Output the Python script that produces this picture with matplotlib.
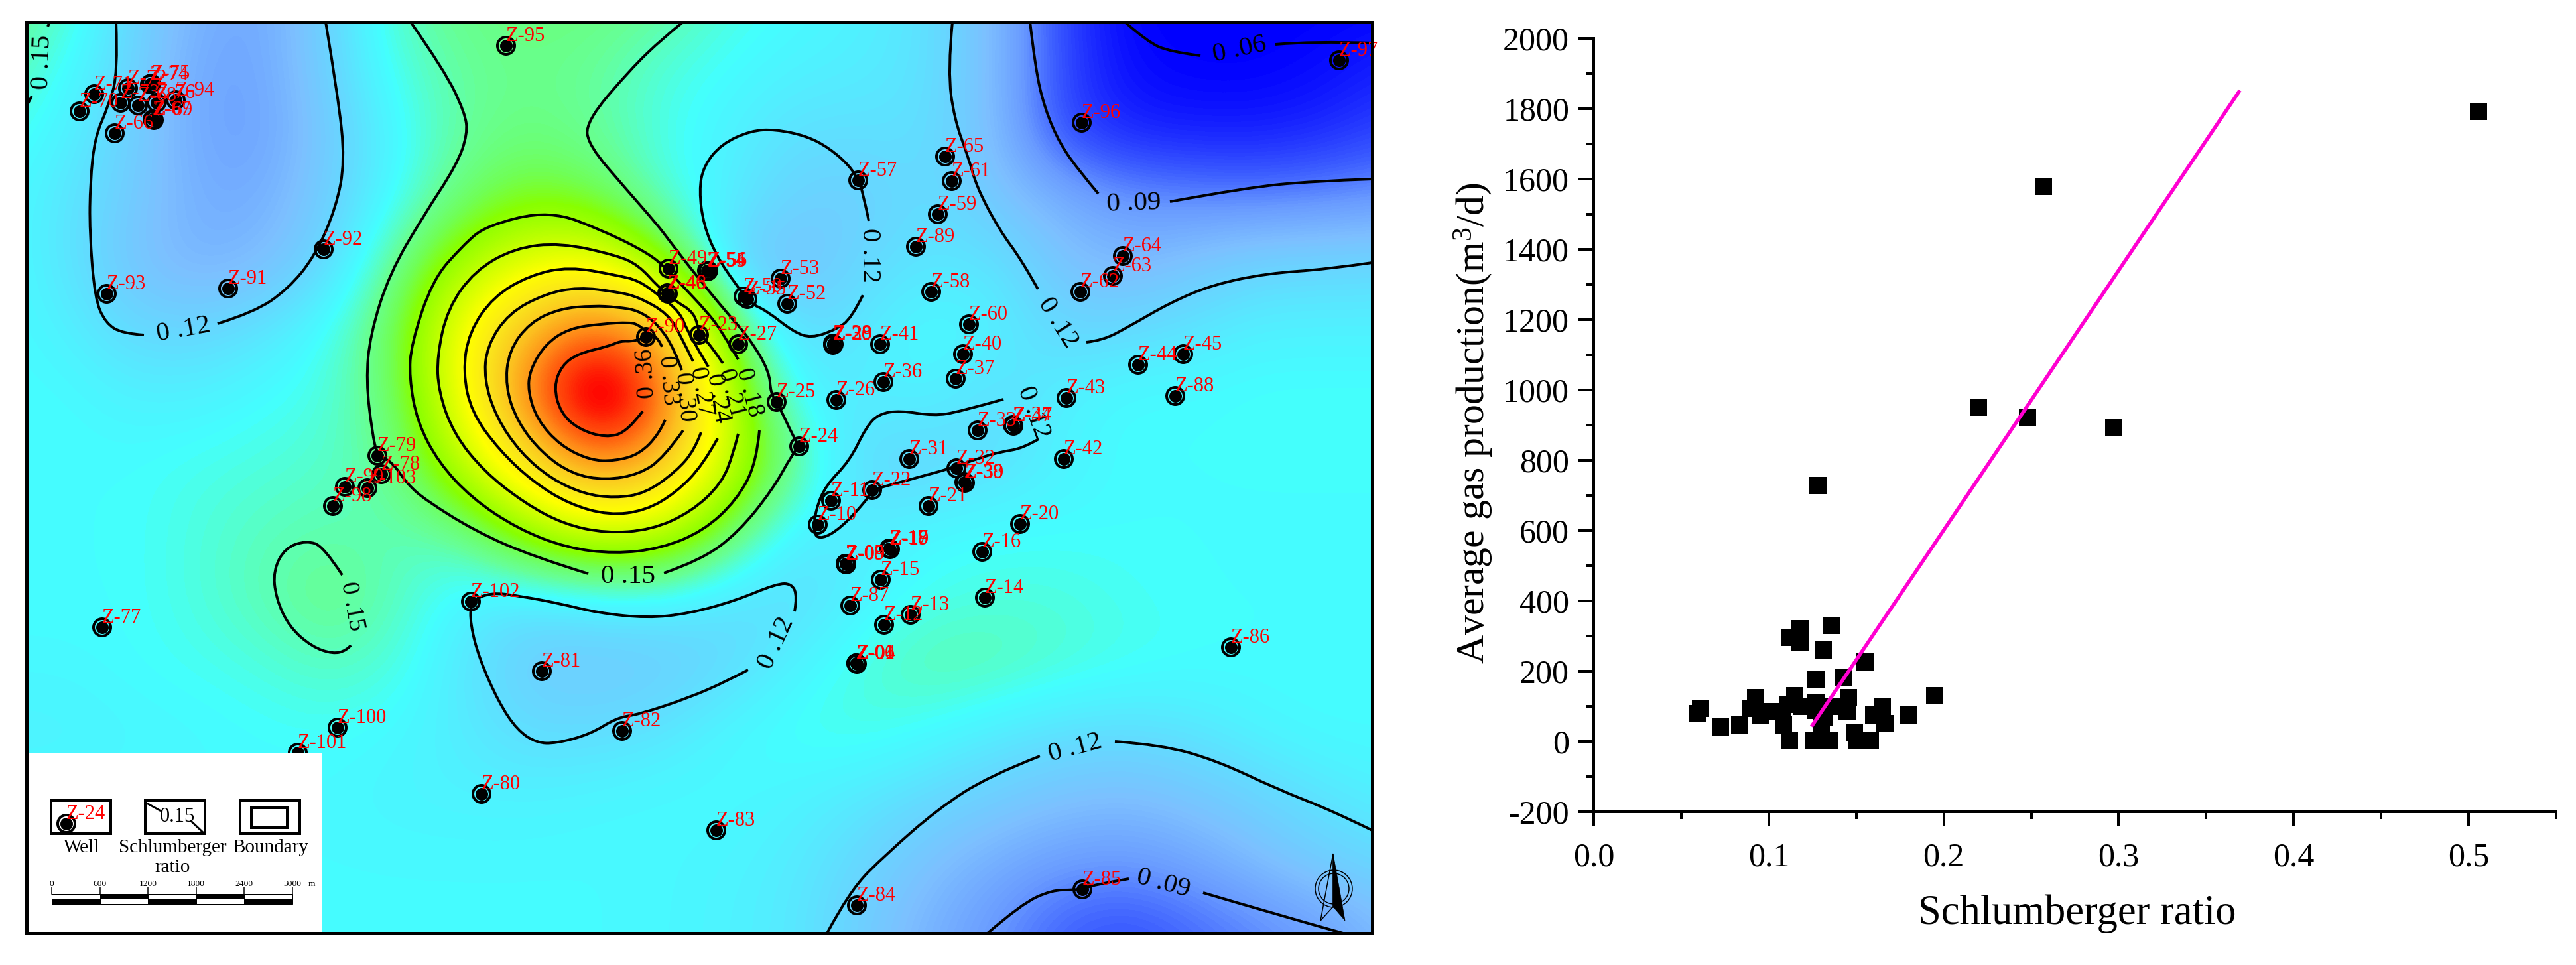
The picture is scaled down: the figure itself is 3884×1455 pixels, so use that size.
import numpy as np
import matplotlib
matplotlib.use('Agg')
import matplotlib.pyplot as plt
from matplotlib.colors import LinearSegmentedColormap, Normalize
from matplotlib.patches import PathPatch, Rectangle, Circle, Polygon
from matplotlib.path import Path

plt.rcParams['font.family'] = ['Liberation Serif', 'DejaVu Sans']
plt.rcParams['mathtext.default'] = 'regular'
plt.rcParams['axes.unicode_minus'] = False

# map coordinates are the picture's own pixel positions
map_x = [100 * i for i in range(22)]
map_y = [100 * i for i in range(15)]

# Schlumberger ratio x 100, one row per map_y
ratio_grid = [
    [15.5, 14.5, 11.8, 10, 9.5, 11.8, 14.5, 15.5, 15.7, 15.7, 15.2, 14, 13.5, 13, 12.3, 10.5, 7, 5, 5, 5, 5, 5],
    [15, 13.5, 11.7, 9.5, 9.5, 11.7, 14, 15, 15.4, 15, 14, 13.5, 13, 12.8, 12.3, 10.5, 7, 5.3, 5, 5, 5.3, 6],
    [14, 13, 11.5, 9.5, 9.3, 11.3, 13.3, 15, 15.6, 15, 13.8, 13, 12.2, 12.2, 12.2, 10.5, 7, 6, 5.8, 5.8, 6.2, 7],
    [13.5, 12.5, 11.2, 9.8, 9.8, 11.5, 13.5, 15.8, 17.5, 16.5, 14, 12.8, 11.5, 11.3, 12.2, 11, 10, 9, 8.7, 8.5, 8.7, 9],
    [13.5, 12.5, 10.8, 10, 10.5, 12, 15.3, 19.5, 23, 23.5, 18, 11.5, 10.5, 11.9, 12.5, 12.5, 10.8, 10.2, 11, 11.8, 11.9, 12],
    [13.5, 13, 11.9, 11.8, 12.5, 13.7, 16.5, 24, 31, 35.5, 31, 16, 12, 12.6, 13.5, 13, 11.8, 12, 12.5, 13, 13, 13],
    [13.5, 13.5, 13, 13, 13.5, 14, 16, 23.5, 35, 41, 36, 19.5, 13, 12.8, 13, 12, 13, 13.5, 13.5, 13.7, 13.7, 13.7],
    [13.5, 13.5, 13.5, 13.8, 14, 14.3, 15.2, 20.5, 27, 34, 30, 20.5, 15, 11.8, 11.7, 12.2, 13, 13.5, 13.5, 13.5, 13.5, 13.5],
    [13.5, 13.5, 13.5, 14, 14.5, 14.7, 14.5, 15, 19, 21, 20.5, 16, 12.7, 12.8, 13.3, 13.5, 13.5, 13.5, 13.5, 13.5, 13.5, 13.5],
    [13.5, 13.5, 13.5, 14, 14.7, 15.5, 14.5, 13, 12.5, 13, 13, 12.3, 12, 13, 13.7, 14, 14, 13.7, 13.5, 13.5, 13.5, 13.5],
    [13.3, 13.3, 13.5, 13.7, 14, 14.5, 14, 12.5, 11.2, 11, 11.2, 11.9, 13, 14, 14.8, 14.7, 14.2, 13.8, 13.6, 13.5, 13.5, 13.3],
    [13, 13, 13.2, 13.3, 13.5, 13.6, 13.3, 12.7, 12, 12, 12.4, 13.3, 13.8, 14, 13.5, 12.8, 12.3, 12.2, 12.5, 13.2, 13.5, 13.5],
    [13.3, 13.3, 13.4, 13.4, 13.4, 13.3, 13.1, 13, 13, 13.2, 13.4, 13.4, 13.1, 12.6, 12, 11.4, 10.8, 10.5, 11, 11.7, 12.5, 13],
    [13.4, 13.4, 13.4, 13.4, 13.4, 13.4, 13.4, 13.4, 13.4, 13.4, 13.3, 13.1, 12.7, 11.8, 10.7, 9.8, 9.1, 9, 9.5, 10.5, 11.4, 12],
    [13.4, 13.4, 13.4, 13.4, 13.4, 13.4, 13.4, 13.4, 13.4, 13.4, 13.3, 13, 12.6, 11.3, 10, 8.9, 7.6, 7.1, 7.8, 8.5, 9.2, 10.5],
]

contour_lines = [
    # 0.36 to 0.18 rings round the high
    [(974, 509), (955, 515), (936, 514), (918, 522), (872, 533), (847, 551), (835, 583), (845, 622), (872, 647),
     (913, 660), (946, 651), (969, 620)],
    [(998, 523), (993, 510), (974, 500), (963, 490), (950, 486), (909, 488), (858, 495), (822, 519), (799, 558),
     (796, 590), (810, 633), (845, 672), (890, 694), (927, 695), (964, 685), (994, 654), (1003, 633)],
    [(1028, 558), (1017, 527), (993, 490), (963, 468), (930, 463), (895, 461), (845, 465), (799, 486), (767, 529),
     (762, 583), (780, 636), (817, 683), (863, 715), (913, 724), (964, 715), (1001, 690), (1030, 649)],
    [(1045, 545), (1027, 507), (1007, 473), (963, 448), (930, 440), (872, 433), (822, 443), (767, 472), (734, 522),
     (730, 572), (748, 629), (785, 683), (831, 722), (881, 745), (927, 751), (973, 744), (1019, 711), (1047, 679),
     (1057, 652)],
    [(1068, 553), (1038, 503), (1025, 470), (993, 445), (963, 423), (930, 415), (858, 402), (799, 415), (744, 447),
     (707, 501), (698, 561), (711, 622), (753, 679), (803, 726), (858, 760), (918, 777), (973, 770), (1019, 743),
     (1060, 701), (1082, 661)],
    [(1090, 548), (1070, 518), (1054, 505), (1048, 472), (1017, 453), (993, 433), (963, 400), (930, 385), (845, 366),
     (776, 374), (716, 408), (675, 465), (659, 536), (661, 590), (684, 654), (730, 711), (790, 758), (849, 790),
     (913, 804), (982, 799), (1042, 772), (1088, 729), (1106, 683), (1113, 654)],
    [(1113, 542), (1087, 497), (1063, 467), (1030, 432), (1003, 403), (976, 381), (912, 349), (829, 317), (733, 340),
     (698, 370), (652, 422), (620, 519), (617, 569), (629, 636), (661, 697), (711, 751), (780, 797), (854, 826),
     (927, 835), (996, 827), (1060, 801), (1111, 754), (1141, 697), (1145, 649)],
    # 0.15
    [(619, 33), (670, 106), (701, 170), (705, 202), (689, 248), (638, 326), (587, 413), (558, 505), (552, 574),
     (561, 652), (569, 687), (591, 696), (614, 730), (643, 755), (717, 801), (803, 839), (887, 865)],
    [(1001, 864), (1056, 845), (1113, 803), (1165, 738), (1194, 686), (1205, 673), (1197, 660), (1172, 607),
     (1162, 593), (1160, 560), (1130, 510), (1097, 473), (1047, 412), (1007, 360), (992, 340), (944, 285), (888, 220),
     (883, 184), (950, 105), (1000, 57), (1030, 33)],
    [(516, 867), (488, 824), (462, 815), (430, 826), (412, 860), (416, 902), (436, 945), (470, 975), (502, 986),
     (522, 981), (529, 973)],
    [(75, 33), (72, 40)],
    [(48, 145), (41, 158)],
    # 0.12
    [(217, 505), (185, 503), (159, 487), (143, 450), (135, 349), (136, 275), (143, 207), (163, 161), (178, 110),
     (175, 33)],
    [(328, 488), (383, 471), (434, 436), (475, 386), (507, 312), (520, 243), (510, 147), (491, 33)],
    [(1310, 333), (1301, 290), (1294, 272), (1281, 250), (1250, 223), (1216, 205), (1169, 195), (1132, 197),
     (1088, 217), (1061, 250), (1054, 287), (1061, 340), (1081, 387), (1108, 427), (1132, 458), (1155, 468),
     (1196, 500), (1223, 510), (1260, 497), (1284, 480), (1301, 445)],
    [(1436, 33), (1429, 107), (1439, 180), (1460, 237), (1473, 283), (1507, 347), (1541, 393), (1565, 436)],
    [(1638, 516), (1663, 513), (1701, 493), (1765, 456), (1829, 429), (1912, 412), (2000, 406), (2069, 396)],
    [(1198, 922), (1202, 899), (1194, 880), (1171, 880), (1108, 906), (1039, 925), (976, 932), (901, 924), (844, 910),
     (786, 899), (740, 893), (710, 907), (709, 941), (723, 994), (752, 1059), (780, 1101), (809, 1120), (838, 1121),
     (890, 1107), (930, 1082), (964, 1077), (1039, 1052), (1096, 1027), (1128, 1010)],
    [(1513, 602), (1446, 621), (1408, 627), (1357, 619), (1325, 624), (1306, 644), (1281, 695), (1245, 732),
     (1230, 768), (1226, 805), (1239, 813), (1268, 796), (1306, 755), (1315, 739), (1332, 734), (1383, 720),
     (1434, 706), (1478, 690), (1510, 681), (1542, 676), (1566, 662)],
    [(1247, 1407), (1281, 1343), (1337, 1287), (1414, 1220), (1491, 1170), (1568, 1140)],
    [(1681, 1118), (1751, 1123), (1835, 1147), (1926, 1190), (2010, 1223), (2069, 1252)],
    # 0.09
    [(1553, 33), (1561, 103), (1575, 163), (1598, 217), (1629, 260), (1656, 292)],
    [(1764, 304), (1879, 283), (1980, 273), (2069, 270)],
    [(1489, 1407), (1540, 1363), (1586, 1342), (1618, 1342), (1632, 1340), (1656, 1333), (1702, 1325)],
    [(1814, 1346), (1912, 1375), (2025, 1407)],
    # 0.06
    [(1696, 33), (1730, 63), (1764, 78), (1810, 84)],
    [(1923, 67), (1980, 62), (2069, 65)],
]

contour_text = ['0 .12', '0 .15', '0 .15', '0 .15', '0 .12', '0 .12', '0 .12', '0 .12', '0 .12', '0 .09', '0 .09',
                '0 .06', '0 .36', '0 .33', '0 .30', '0 .27', '0 .24', '0 .21', '0 .18']
contour_text_x = [277, 947, 531, 64, 1310, 1595, 1171, 1558, 1621, 1710, 1754, 1869, 975, 1007, 1032, 1058, 1083, 1103, 1130]
contour_text_y = [498, 870, 914, 94, 385, 487, 970, 622, 1128, 307, 1332, 75, 563, 573, 598, 590, 600, 593, 592]
contour_text_rot = [10, 0, -80, 88, -90, -58, 65, -70, 15, 2, -15, 12, 93, -85, -85, -80, -80, -75, -75]

well_names = ['Z-95', 'Z-70', 'Z-71', 'Z-72', 'Z-74', 'Z-75', 'Z-73', 'Z-68', 'Z-76', 'Z-94', 'Z-67', 'Z-69', 'Z-66',
              'Z-93', 'Z-91', 'Z-92', 'Z-79', 'Z-78', 'Z-103', 'Z-99', 'Z-98', 'Z-102', 'Z-81', 'Z-82', 'Z-100',
              'Z-101', 'Z-80', 'Z-83', 'Z-84', 'Z-85', 'Z-77', 'Z-97', 'Z-96', 'Z-57', 'Z-65', 'Z-61', 'Z-59', 'Z-89',
              'Z-64', 'Z-63', 'Z-62', 'Z-58', 'Z-53', 'Z-52', 'Z-50', 'Z-35', 'Z-49', 'Z-54', 'Z-55', 'Z-56', 'Z-46',
              'Z-48', 'Z-90', 'Z-23', 'Z-27', 'Z-60', 'Z-28', 'Z-29', 'Z-30', 'Z-41', 'Z-40', 'Z-44', 'Z-45', 'Z-37',
              'Z-36', 'Z-26', 'Z-25', 'Z-43', 'Z-88', 'Z-33', 'Z-34', 'Z-47', 'Z-24', 'Z-31', 'Z-42', 'Z-32', 'Z-38',
              'Z-39', 'Z-22', 'Z-11', 'Z-21', 'Z-10', 'Z-20', 'Z-16', 'Z-18', 'Z-19', 'Z-17', 'Z-08', 'Z-09', 'Z-05',
              'Z-15', 'Z-87', 'Z-14', 'Z-13', 'Z-12', 'Z-86', 'Z-01', 'Z-04', 'Z-06']
well_x = [763, 120, 142, 193, 226, 228, 182, 208, 236, 265, 230, 232, 173,
          161, 344, 488, 569, 575, 554, 520, 502, 710, 817, 938, 509,
          449, 726, 1080, 1292, 1632, 154, 2019, 1631, 1294, 1425, 1435, 1414, 1381,
          1693, 1678, 1629, 1404, 1177, 1187, 1121, 1127, 1008, 1066, 1067, 1068, 1006,
          1007, 974, 1054, 1113, 1461, 1256, 1257, 1256, 1327, 1452, 1716, 1784, 1441,
          1332, 1261, 1171, 1608, 1772, 1474, 1527, 1528, 1205, 1371, 1604, 1442, 1454,
          1455, 1315, 1253, 1400, 1233, 1538, 1481, 1341, 1342, 1341, 1275, 1276, 1275,
          1328, 1282, 1485, 1373, 1333, 1856, 1291, 1292, 1291]
well_y = [69, 168, 142, 133, 127, 126, 155, 159, 155, 151, 180, 181, 201,
          443, 435, 376, 687, 715, 736, 734, 763, 907, 1012, 1102, 1097,
          1135, 1197, 1252, 1365, 1341, 946, 91, 185, 272, 236, 273, 323, 372,
          386, 416, 440, 440, 420, 458, 447, 451, 405, 408, 409, 408, 442,
          443, 508, 505, 519, 489, 518, 519, 520, 519, 534, 550, 534, 571,
          576, 603, 606, 600, 597, 649, 641, 642, 673, 692, 692, 706, 727,
          728, 739, 755, 763, 791, 790, 832, 827, 828, 827, 850, 851, 850,
          874, 913, 901, 927, 942, 976, 1000, 1001, 1000]

scale_labels = ['0', '600', '1200', '1800', '2400', '3000']
legend_names = ['Well', 'Schlumberger', 'Boundary']

# right panel
ratio = [0.5055, 0.257, 0.220, 0.248, 0.297, 0.128, 0.136, 0.118, 0.112, 0.118, 0.131, 0.155, 0.143, 0.127, 0.195,
         0.0611, 0.059, 0.0725, 0.0833, 0.0926, 0.0899, 0.095, 0.098, 0.108, 0.1084, 0.112, 0.1107, 0.115, 0.1186,
         0.127, 0.127, 0.1255, 0.133, 0.135, 0.130, 0.132, 0.136, 0.1456, 0.1448, 0.149, 0.1505, 0.154, 0.158, 0.160,
         0.165, 0.1665, 0.1797]
gas = [1792, 1579, 951, 923, 892, 729, 330, 320, 296, 281, 260, 227, 183, 177, 131,
       95, 80, 42, 47, 124, 95, 75, 84, 84, 47, 1, 106, 131, 100,
       112, 88, 1, 1, 1, 40, 69, 100, 125, 84, 26, 1, 1, 1, 75,
       100, 51, 75]
fit_x = [0.125, 0.3687]
fit_y = [47, 1848]

colour_stops = [(5, '#0000ff'), (7.5, '#3b5cff'), (9, '#6a9cff'), (10.5, '#7dbfff'), (12, '#62dcff'), (13.5, '#44ffff'),
                (15, '#66ff99'), (16.5, '#70ff55'), (18, '#88ff00'), (21, '#c8ff00'), (24, '#ffff00'), (27, '#fae41c'),
                (30, '#fcc020'), (33, '#ff8a18'), (36, '#ff3a08'), (37.5, '#ff0000')]


def px(n):
    return n * 0.72


def smooth_path(points):
    # quadratic curves through the midpoints of the traced points
    pts = np.array(points, dtype=float)
    if len(pts) < 3:
        return Path(pts)
    verts = [pts[0]]
    codes = [Path.MOVETO]
    for i in range(1, len(pts) - 1):
        end = pts[i + 1] if i == len(pts) - 2 else (pts[i] + pts[i + 1]) / 2
        verts += [pts[i], end]
        codes += [Path.CURVE3, Path.CURVE3]
    return Path(verts, codes)


W, H = 3884, 1455
fig = plt.figure(figsize=(W / 100, H / 100), dpi=100, facecolor='white')

# ---- map ----
L, R, T, B = 40, 2069, 33, 1407
ax = fig.add_axes([L / W, 1 - B / H, (R - L) / W, (B - T) / H])
lo, hi = colour_stops[0][0], colour_stops[-1][0]
cmap = LinearSegmentedColormap.from_list('ratio', [((v - lo) / (hi - lo), c) for v, c in colour_stops])
ax.imshow(np.array(ratio_grid), cmap=cmap, norm=Normalize(lo, hi), interpolation='bicubic', aspect='auto',
          extent=(map_x[0] - 50, map_x[-1] + 50, map_y[-1] + 50, map_y[0] - 50), zorder=1)
ax.set_xlim(L, R)
ax.set_ylim(B, T)
ax.set_xticks([])
ax.set_yticks([])
for s in ax.spines.values():
    s.set_linewidth(px(5))
    s.set_zorder(10)

for line in contour_lines:
    ax.add_patch(PathPatch(smooth_path(line), fill=False, edgecolor='black', lw=px(4), capstyle='butt', zorder=2))

for t, x, y, r in zip(contour_text, contour_text_x, contour_text_y, contour_text_rot):
    size = 27 if r in (93, -85, -80, -75) else 29.5
    ax.text(x, y, t, fontsize=size, rotation=r, ha='center', va='center', color='black', zorder=3,
            rotation_mode='anchor')

ax.scatter(well_x, well_y, s=px(26) ** 2, facecolors='none', edgecolors='black', linewidths=px(4), zorder=4)
ax.scatter(well_x, well_y, s=px(19) ** 2, c='black', linewidths=0, zorder=4)
for name, x, y in zip(well_names, well_x, well_y):
    ax.text(x, y - 7, name, fontsize=22, color='#ff0000', ha='left', va='baseline', zorder=7)

# legend block
ax.add_patch(Rectangle((L, 1136), 446, B - 1136, facecolor='white', edgecolor='none', zorder=5))
for x0 in (77, 219, 362):
    ax.add_patch(Rectangle((x0, 1207), 90, 50, fill=False, edgecolor='black', lw=px(4), zorder=6))
ax.add_patch(Rectangle((379, 1218), 54, 30, fill=False, edgecolor='black', lw=px(4), zorder=6))
ax.scatter([100], [1242], s=px(26) ** 2, facecolors='none', edgecolors='black', linewidths=px(4), zorder=6)
ax.scatter([100], [1242], s=px(19) ** 2, c='black', linewidths=0, zorder=6)
ax.text(100, 1235, 'Z-24', fontsize=22, color='#ff0000', ha='left', va='baseline', zorder=7)
ax.text(267, 1232, '0.15', fontsize=22, color='black', ha='center', va='center', zorder=7)
ax.plot([223, 241], [1212, 1222], color='black', lw=px(3), zorder=6)
ax.plot([288, 306], [1238, 1255], color='black', lw=px(3), zorder=6)
for name, x in zip(legend_names, (123, 260, 408)):
    ax.text(x, 1278, name, fontsize=21, color='black', ha='center', va='center', zorder=7)
ax.text(260, 1308, 'ratio', fontsize=21, color='black', ha='center', va='center', zorder=7)

# scale bar
bar_left, bar_step = 78, 72.6
for i, lab in enumerate(scale_labels):
    xt = bar_left + i * bar_step
    ax.plot([xt, xt], [1338, 1348], color='black', lw=px(1.5), zorder=6)
    ax.text(xt, 1333, lab, fontsize=9.7, ha='center', va='center', zorder=7)
    if i < 5:
        top_c, bot_c = ('white', 'black') if i % 2 == 0 else ('black', 'white')
        ax.add_patch(Rectangle((xt, 1348), bar_step, 7.5, facecolor=top_c, edgecolor='black', lw=px(1), zorder=6))
        ax.add_patch(Rectangle((xt, 1355.5), bar_step, 7.5, facecolor=bot_c, edgecolor='black', lw=px(1), zorder=6))
ax.text(470, 1333, 'm', fontsize=9.7, ha='center', va='center', zorder=7)

# north arrow
for rad in (28, 23):
    ax.add_patch(Circle((2011, 1340), rad, fill=False, edgecolor='black', lw=px(1.5), zorder=6))
ax.add_patch(Polygon([(2010, 1287), (2028, 1388), (2010, 1367)], facecolor='black', edgecolor='black', lw=0.5, zorder=6))
ax.add_patch(Polygon([(2010, 1287), (1991, 1388), (2010, 1367)], fill=False, edgecolor='black', lw=px(1.5), zorder=6))

# ---- scatter ----
sl, sr, st, sb = 2403, 3854, 58, 1224
ax2 = fig.add_axes([sl / W, 1 - sb / H, (sr - sl) / W, (sb - st) / H])
ax2.scatter(ratio, gas, marker='s', s=px(26) ** 2, c='black', linewidths=0, zorder=3)
ax2.plot(fit_x, fit_y, color='#ff00d0', lw=px(5.5), zorder=4)
ax2.set_xlim(0, 0.55)
ax2.set_ylim(-200, 2000)
ax2.set_xticks(np.arange(0, 0.51, 0.1))
ax2.set_xticks(np.arange(0.05, 0.56, 0.1), minor=True)
ax2.set_yticks(np.arange(-200, 2001, 200))
ax2.set_yticks(np.arange(-100, 2000, 200), minor=True)
ax2.set_xticklabels(['0.0', '0.1', '0.2', '0.3', '0.4', '0.5'])
ax2.spines['top'].set_visible(False)
ax2.spines['right'].set_visible(False)
ax2.spines['left'].set_linewidth(px(4))
ax2.spines['bottom'].set_linewidth(px(4))
ax2.tick_params(axis='x', which='major', length=px(22), width=px(4), labelsize=36, pad=px(24))
ax2.tick_params(axis='x', which='minor', length=px(11), width=px(4))
ax2.tick_params(axis='y', which='major', length=px(23), width=px(4), labelsize=36, pad=px(14))
ax2.tick_params(axis='y', which='minor', length=px(11), width=px(4))
fig.text(3132 / W, 1 - 1378 / H, 'Schlumberger ratio', fontsize=45, ha='center', va='center')
fig.text(2222 / W, 1 - 638 / H, 'Average gas production(m$^{3}$/d)', fontsize=43, rotation=90, ha='center',
         va='center')

fig.savefig('out.png', dpi=100, facecolor='white')
